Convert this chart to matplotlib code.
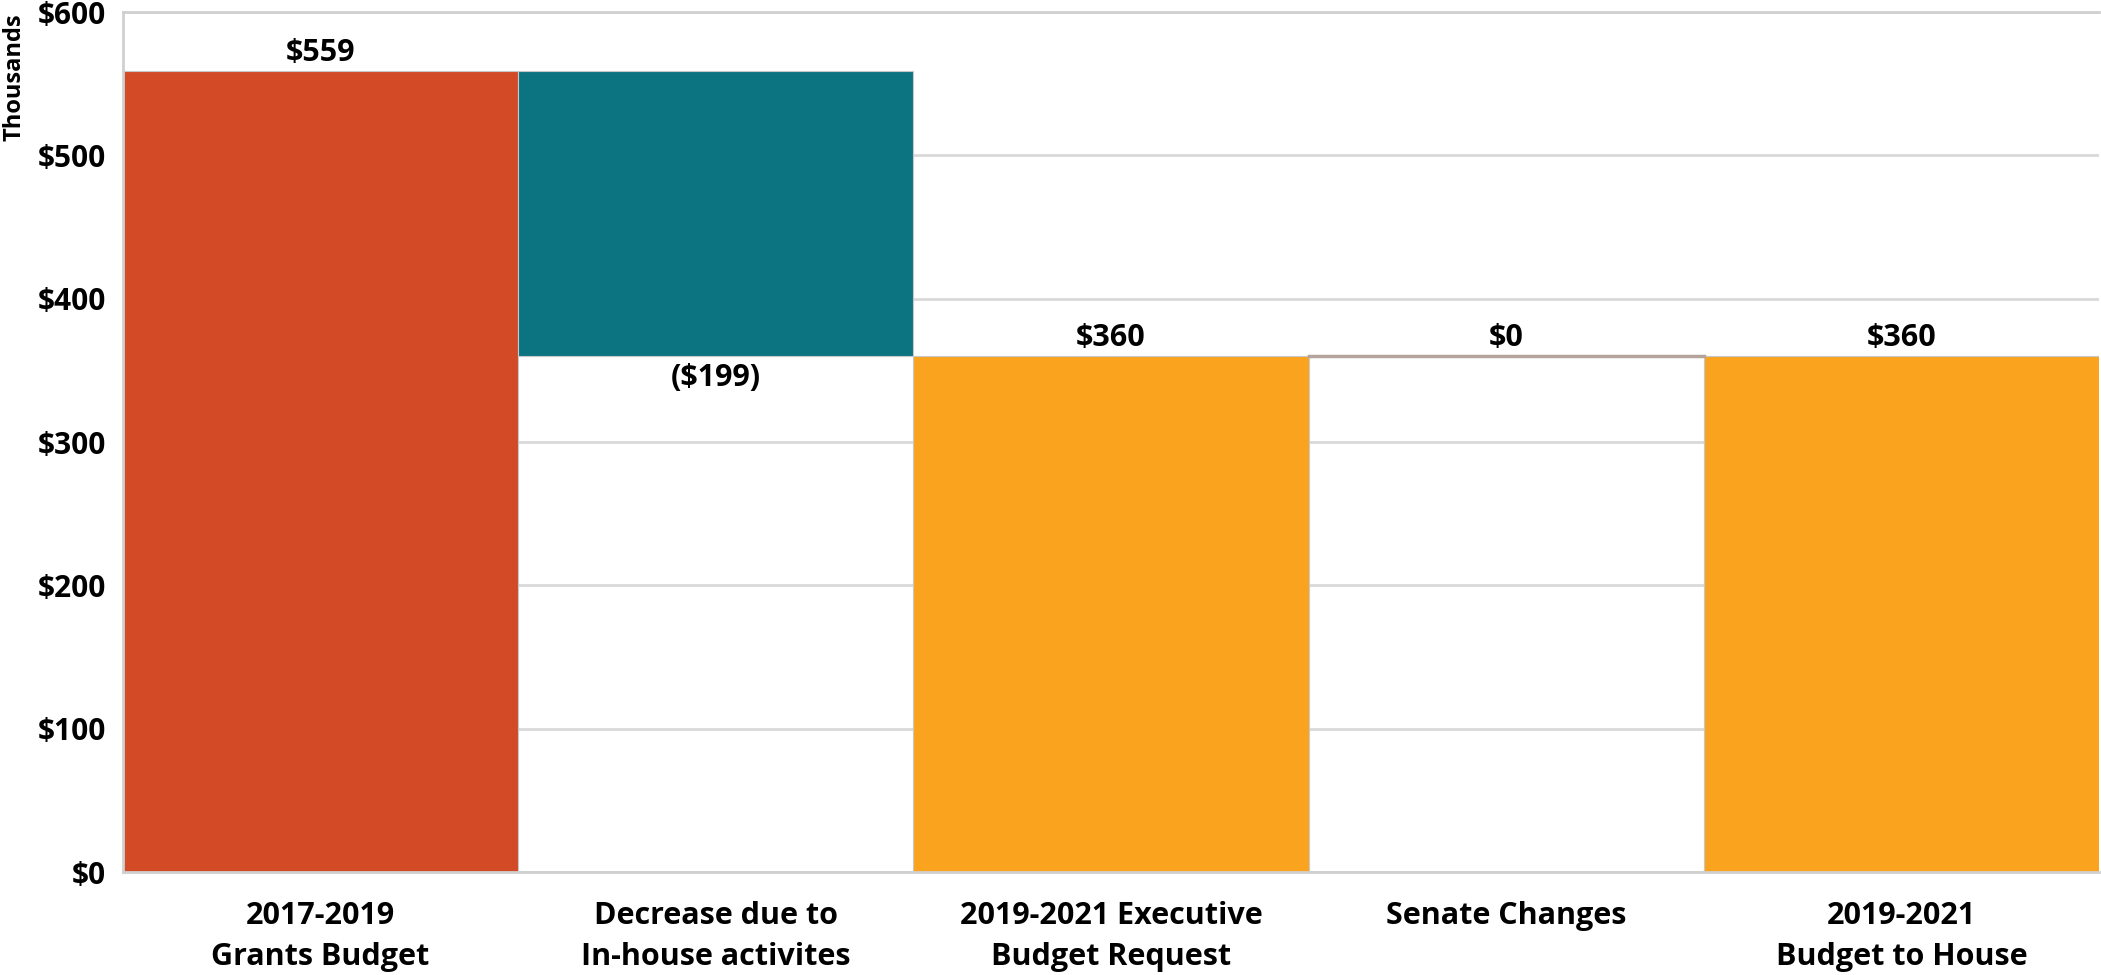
import matplotlib
matplotlib.use("Agg")
import matplotlib.pyplot as plt
import numpy as np

categories = ["2017-2019\nGrants Budget", "Decrease due to\nIn-house activites",
              "2019-2021 Executive\nBudget Request", "Senate Changes",
              "2019-2021\nBudget to House"]
values = [559, -199, 360, 0, 360]
is_total = [True, False, True, False, True]
labels = ["$559", "($199)", "$360", "$0", "$360"]
yticks = [0, 100, 200, 300, 400, 500, 600]
ytick_labels = ["$0", "$100", "$200", "$300", "$400", "$500", "$600"]

colors = ["#D34A27", "#0B7480", "#F9A31F", "#FFFFFF", "#F9A31F"]

plt.rcParams['font.family'] = ['Open Sans', 'DejaVu Sans']

fig = plt.figure(figsize=(21.01, 9.75), dpi=100)
ax = fig.add_axes([123/2101, (975-872)/975, (2099-123)/2101, 860/975])

x = np.arange(len(categories))
running = 0
bottoms, heights = [], []
for v, tot in zip(values, is_total):
    if tot:
        bottoms.append(0)
        heights.append(v)
        running = v
    else:
        new = running + v
        bottoms.append(min(running, new))
        heights.append(abs(v))
        running = new

ax.bar(x, heights, bottom=bottoms, width=1.0, color=colors,
       edgecolor="#c8c8c8", linewidth=0.8, zorder=2)

# senate changes zero bar: thin line
for i, (v, tot) in enumerate(zip(values, is_total)):
    if not tot and v == 0:
        ax.plot([x[i]-0.5, x[i]+0.5], [bottoms[i], bottoms[i]], color="#b5a49c", lw=2.5, zorder=3)

for i, (v, tot) in enumerate(zip(values, is_total)):
    top = bottoms[i] + heights[i]
    if v < 0:
        ax.text(x[i], bottoms[i] - 5, labels[i], ha="center", va="top",
                fontsize=22, fontweight="bold")
    else:
        ax.text(x[i], top + 2, labels[i], ha="center", va="bottom",
                fontsize=22, fontweight="bold")

ax.set_xlim(-0.5, len(categories)-0.5)
ax.set_ylim(0, 600)
ax.set_yticks(yticks)
ax.set_yticklabels(ytick_labels, fontsize=21.5, fontweight="bold")
ax.set_xticks(x)
ax.set_xticklabels(categories, fontsize=22, fontweight="bold", linespacing=1.45)
ax.tick_params(length=0)
ax.tick_params(axis="y", pad=12)
ax.tick_params(axis="x", pad=21)
ax.grid(axis="y", color="#d9d9d9", lw=2, zorder=0)
ax.set_axisbelow(True)
for s in ax.spines.values():
    s.set_color("#d0d0d0")
    s.set_linewidth(2)
ax.spines["right"].set_visible(False)

fig.text(15/2101, 1 - 77/975, "Thousands", rotation=90, ha="center", va="center",
         fontsize=17, fontweight="bold")

fig.savefig("out.png", dpi=100, facecolor="white")
